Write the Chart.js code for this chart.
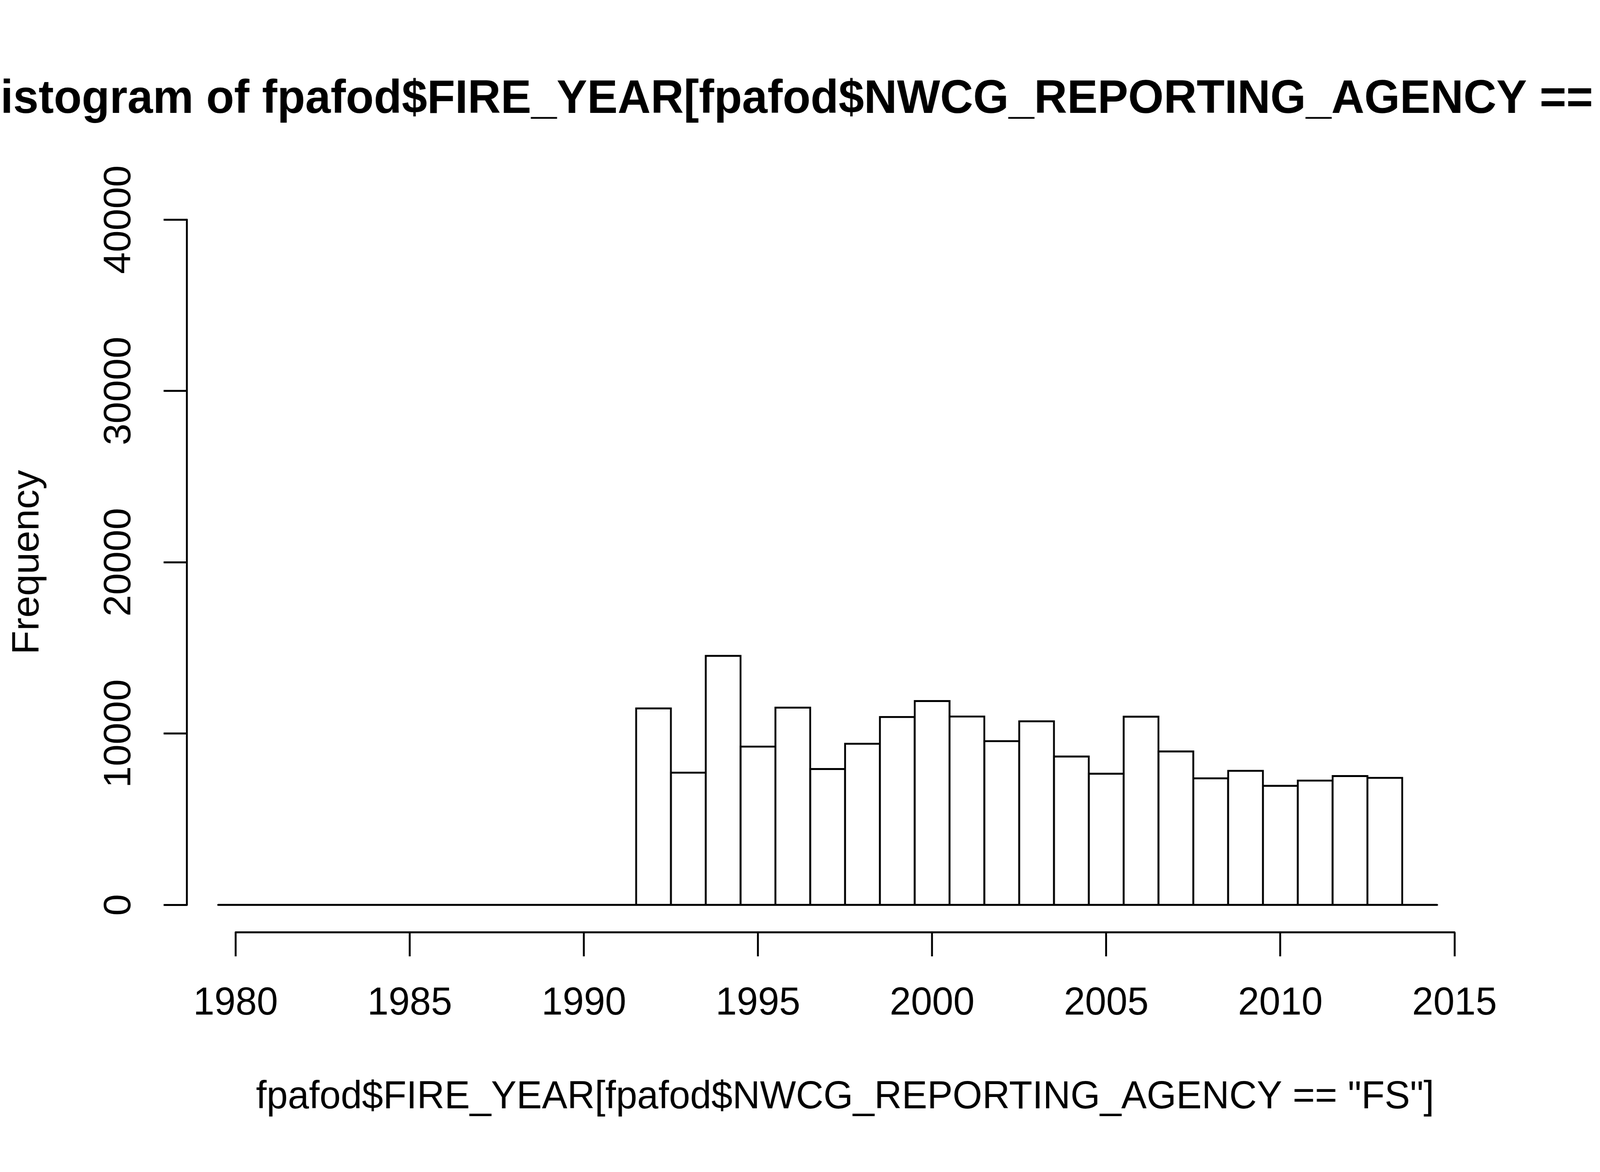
<!DOCTYPE html>
<html>
<head>
<meta charset="utf-8">
<title>Histogram of fpafod$FIRE_YEAR</title>
<script src="https://cdn.jsdelivr.net/npm/chart.js@4.4.1/dist/chart.umd.min.js"></script>
<style>
  html, body { margin: 0; padding: 0; background: #fff; overflow: hidden; }
  canvas { display: block; }
</style>
</head>
<body>
<canvas id="histChart" width="4200" height="3000"></canvas>
<script>
// bins of width 1, centred on each year
const years = [1980, 1981, 1982, 1983, 1984, 1985, 1986, 1987, 1988, 1989, 1990, 1991,
  1992, 1993, 1994, 1995, 1996, 1997, 1998, 1999, 2000, 2001, 2002, 2003,
  2004, 2005, 2006, 2007, 2008, 2009, 2010, 2011, 2012, 2013, 2014];
const counts = [0, 0, 0, 0, 0, 0, 0, 0, 0, 0, 0, 0,
  11470, 7720, 14540, 9240, 11520, 7930, 9410, 10970, 11900, 11000, 9560, 10720,
  8660, 7660, 10990, 8960, 7390, 7830, 6950, 7260, 7520, 7420, 0];

const xTicks = [1980, 1985, 1990, 1995, 2000, 2005, 2010, 2015];
const yTicks = [0, 10000, 20000, 30000, 40000];

const mainTitle = 'Histogram of fpafod$FIRE_YEAR[fpafod$NWCG_REPORTING_AGENCY == "FS"]';
const xTitle = 'fpafod$FIRE_YEAR[fpafod$NWCG_REPORTING_AGENCY == "FS"]';
const yTitle = 'Frequency';

const FONT = "'Liberation Sans', Arial, Helvetica, sans-serif";
Chart.defaults.font.family = FONT;
Chart.defaults.color = '#000';

// draw at 4200x3000 and let the canvas fill whatever the window really is
const canvas = document.getElementById('histChart');
canvas.style.width = (window.innerWidth || 4200) + 'px';
canvas.style.height = (window.innerHeight || 3000) + 'px';

const binEdges = [years[0] - 0.5, years[years.length - 1] + 0.5];

// R style axis lines: only from first to last tick
const axisLines = {
  id: 'axisLines',
  afterDraw(chart) {
    const { ctx, chartArea, scales: { x, y } } = chart;
    ctx.save();
    ctx.strokeStyle = '#000';
    ctx.lineWidth = 5;
    ctx.lineCap = 'round';
    ctx.beginPath();
    ctx.moveTo(x.getPixelForValue(xTicks[0]), chartArea.bottom);
    ctx.lineTo(x.getPixelForValue(xTicks[xTicks.length - 1]), chartArea.bottom);
    ctx.moveTo(chartArea.left, y.getPixelForValue(yTicks[0]));
    ctx.lineTo(chartArea.left, y.getPixelForValue(yTicks[yTicks.length - 1]));
    ctx.stroke();
    ctx.restore();
  }
};

// main title, centred over the plot region and allowed to run off the page
const mainTitlePlugin = {
  id: 'mainTitle',
  afterDraw(chart) {
    const { ctx, chartArea } = chart;
    ctx.save();
    ctx.font = 'bold 120px ' + FONT;
    ctx.fillStyle = '#000';
    ctx.textAlign = 'center';
    ctx.textBaseline = 'alphabetic';
    ctx.fillText(mainTitle, (chartArea.left + chartArea.right) / 2, chartArea.top - 203);
    ctx.restore();
  }
};

new Chart(canvas.getContext('2d'), {
  type: 'bar',
  data: {
    datasets: [
      {
        type: 'line',
        data: binEdges.map(v => ({ x: v, y: 0 })),
        borderColor: '#000',
        borderWidth: 5,
        borderCapStyle: 'round',
        pointRadius: 0,
        fill: false,
        clip: false
      },
      {
        type: 'bar',
        data: years.map((yr, i) => ({ x: yr, y: counts[i] })),
        backgroundColor: '#fff',
        borderColor: '#000',
        borderWidth: 5,
        borderSkipped: 'start',
        inflateAmount: 2.5,
        barPercentage: 1,
        categoryPercentage: 1,
        clip: false
      }
    ]
  },
  options: {
    responsive: false,
    devicePixelRatio: 1,
    animation: false,
    layout: { padding: { top: 492, right: 254, bottom: 0, left: 0 } },
    plugins: {
      legend: { display: false },
      tooltip: { enabled: false },
      title: { display: false }
    },
    scales: {
      x: {
        type: 'linear',
        min: 1978.6,
        max: 2016.4,
        offset: false,
        border: { display: false },
        grid: {
          offset: false,
          drawOnChartArea: false,
          drawTicks: true,
          tickLength: 61.5,
          tickWidth: 5,
          tickColor: '#000'
        },
        afterBuildTicks(scale) { scale.ticks = xTicks.map(v => ({ value: v })); },
        afterFit(scale) { scale.height = 613.5; },
        ticks: {
          autoSkip: false,
          maxRotation: 0,
          padding: 61.4,
          color: '#000',
          font: { size: 100 },
          callback: v => String(v)
        },
        title: {
          display: true,
          text: xTitle,
          color: '#000',
          font: { size: 100 },
          padding: { top: 0, bottom: 130.6 }
        }
      },
      y: {
        type: 'linear',
        min: -1600,
        max: 41600,
        border: { display: false },
        grid: {
          drawOnChartArea: false,
          drawTicks: true,
          tickLength: 61,
          tickWidth: 5,
          tickColor: '#000'
        },
        afterBuildTicks(scale) { scale.ticks = yTicks.map(v => ({ value: v })); },
        afterFit(scale) { scale.width = 490.5; },
        ticks: {
          autoSkip: false,
          minRotation: 90,
          maxRotation: 90,
          crossAlign: 'center',
          padding: -24,
          color: '#000',
          font: { size: 100 },
          callback: v => String(v)
        },
        title: {
          display: true,
          text: yTitle,
          color: '#000',
          font: { size: 100 },
          padding: { top: 13.5, bottom: 0 }
        }
      }
    }
  },
  plugins: [axisLines, mainTitlePlugin]
});
</script>
</body>
</html>
